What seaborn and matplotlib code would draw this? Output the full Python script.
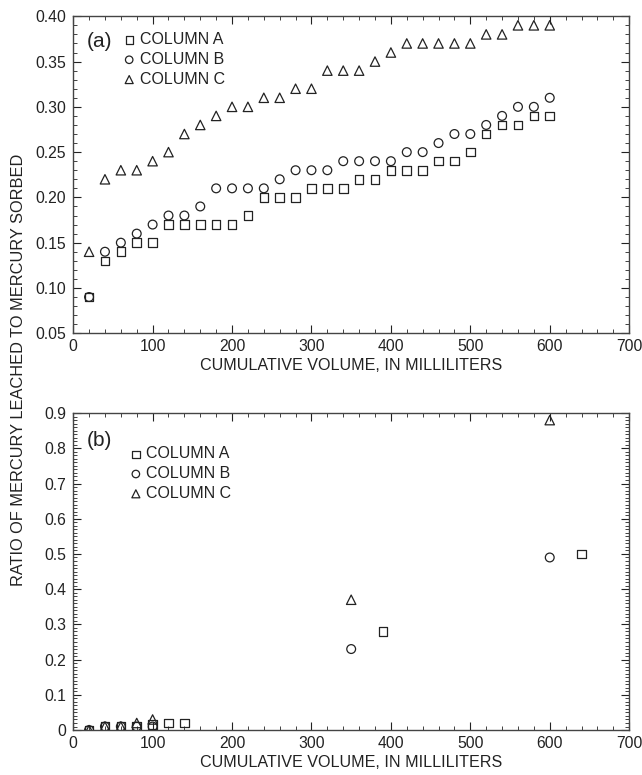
import numpy as np
import pandas as pd
import matplotlib
matplotlib.use("Agg")
import matplotlib.pyplot as plt
import seaborn as sns
from matplotlib.ticker import MultipleLocator, FuncFormatter

sns.set_style("ticks")
plt.rcParams['font.family'] = ['Liberation Sans', 'DejaVu Sans']

# ---- Data: panel (a) ----
vol_a = [20, 40, 60, 80, 100, 120, 140, 160, 180, 200, 220, 240, 260, 280, 300,
         320, 340, 360, 380, 400, 420, 440, 460, 480, 500, 520, 540, 560, 580, 600]
colA_a = [0.09, 0.13, 0.14, 0.15, 0.15, 0.17, 0.17, 0.17, 0.17, 0.17, 0.18, 0.20, 0.20, 0.20, 0.21,
          0.21, 0.21, 0.22, 0.22, 0.23, 0.23, 0.23, 0.24, 0.24, 0.25, 0.27, 0.28, 0.28, 0.29, 0.29]
colB_a = [0.09, 0.14, 0.15, 0.16, 0.17, 0.18, 0.18, 0.19, 0.21, 0.21, 0.21, 0.21, 0.22, 0.23, 0.23,
          0.23, 0.24, 0.24, 0.24, 0.24, 0.25, 0.25, 0.26, 0.27, 0.27, 0.28, 0.29, 0.30, 0.30, 0.31]
colC_a = [0.14, 0.22, 0.23, 0.23, 0.24, 0.25, 0.27, 0.28, 0.29, 0.30, 0.30, 0.31, 0.31, 0.32, 0.32,
          0.34, 0.34, 0.34, 0.35, 0.36, 0.37, 0.37, 0.37, 0.37, 0.37, 0.38, 0.38, 0.39, 0.39, 0.39]

# ---- Data: panel (b) ----
volA_b = [20, 40, 60, 80, 100, 120, 140, 390, 640]
colA_b = [0.0, 0.01, 0.01, 0.01, 0.015, 0.02, 0.02, 0.28, 0.50]
volB_b = [20, 40, 60, 80, 100, 350, 600]
colB_b = [0.0, 0.01, 0.01, 0.01, 0.01, 0.23, 0.49]
volC_b = [20, 40, 60, 80, 100, 350, 600]
colC_b = [0.0, 0.01, 0.01, 0.02, 0.03, 0.37, 0.88]

labels = ["COLUMN A", "COLUMN B", "COLUMN C"]
markers = ["s", "o", "^"]
sizes = [38, 40, 46]

fig = plt.figure(figsize=(6.42, 7.75), dpi=100)
ax1 = fig.add_axes([0.114, 0.570, 0.866, 0.409])
ax2 = fig.add_axes([0.114, 0.058, 0.866, 0.409])

ink = "#222222"

def draw(ax, series):
    for (x, y), lab, m, s in zip(series, labels, markers, sizes):
        sns.scatterplot(x=x, y=y, marker=m, s=s, facecolor="none", edgecolor=ink,
                        linewidth=0.9, label=lab, ax=ax, zorder=3)

draw(ax1, [(vol_a, colA_a), (vol_a, colB_a), (vol_a, colC_a)])
draw(ax2, [(volA_b, colA_b), (volB_b, colB_b), (volC_b, colC_b)])

for ax in (ax1, ax2):
    ax.set_xlim(0, 700)
    ax.xaxis.set_major_locator(MultipleLocator(100))
    ax.xaxis.set_minor_locator(MultipleLocator(20))
    ax.xaxis.set_major_formatter(FuncFormatter(lambda v, p: f"{v:.0f}"))
    ax.tick_params(which="both", direction="in", top=True, right=True,
                   labelsize=11.3, colors=ink)
    ax.tick_params(axis="x", which="major", pad=4)
    ax.tick_params(axis="y", which="major", pad=5)
    ax.tick_params(which="major", length=6, width=0.8)
    ax.tick_params(which="minor", length=3, width=0.6)
    for sp in ax.spines.values():
        sp.set_color("#444444")
        sp.set_linewidth(1.0)
    ax.set_xlabel("CUMULATIVE VOLUME, IN MILLILITERS", fontsize=11.6, color=ink, labelpad=3)
    ax.set_ylabel("")

ax1.set_ylim(0.05, 0.40)
ax1.yaxis.set_major_locator(MultipleLocator(0.05))
ax1.yaxis.set_minor_locator(MultipleLocator(0.01))
ax1.yaxis.set_major_formatter(FuncFormatter(lambda v, p: f"{v:.2f}"))

ax2.set_ylim(0, 0.9)
ax2.yaxis.set_major_locator(MultipleLocator(0.1))
ax2.yaxis.set_minor_locator(MultipleLocator(0.01))
ax2.yaxis.set_major_formatter(FuncFormatter(lambda v, p: "0" if abs(v) < 1e-9 else f"{v:.1f}"))

ax1.text(0.024, 0.92, "(a)", transform=ax1.transAxes, fontsize=15, color=ink, va="center")
ax2.text(0.024, 0.915, "(b)", transform=ax2.transAxes, fontsize=15, color=ink, va="center")

ax1.legend(loc="upper left", bbox_to_anchor=(0.072, 0.97), frameon=False, fontsize=11.5,
           handletextpad=0.05, labelspacing=0.3, borderaxespad=0, handlelength=1.2,
           markerscale=0.85, labelcolor=ink)
ax2.legend(loc="upper left", bbox_to_anchor=(0.084, 0.915), frameon=False, fontsize=11.5,
           handletextpad=0.05, labelspacing=0.3, borderaxespad=0, handlelength=1.2,
           markerscale=0.85, labelcolor=ink)

fig.text(0.029, 1 - 370 / 775, "RATIO OF MERCURY LEACHED TO MERCURY SORBED",
         rotation=90, ha="center", va="center", fontsize=11.8, color=ink)

fig.savefig("out.png", dpi=100, facecolor="white")
